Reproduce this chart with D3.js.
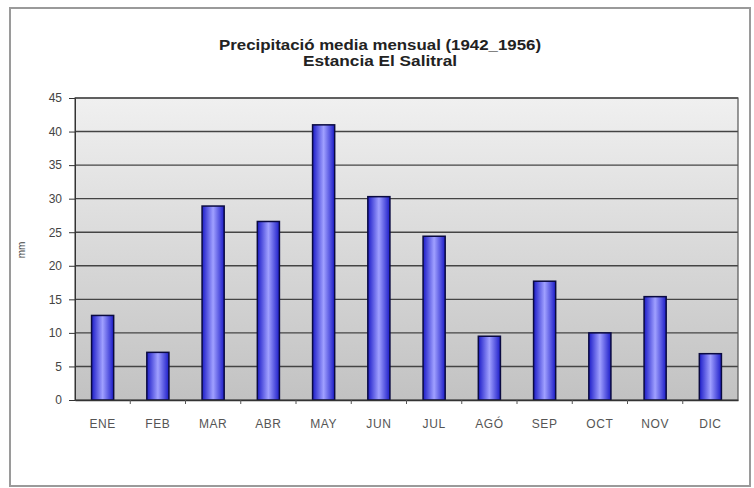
<!DOCTYPE html>
<html><head><meta charset="utf-8">
<script src="https://cdn.jsdelivr.net/npm/d3@7"></script>
<style>
html,body{margin:0;padding:0;background:#fff;}
svg{display:block;}
</style></head>
<body>
<script>
const months = ["ENE","FEB","MAR","ABR","MAY","JUN","JUL","AGÓ","SEP","OCT","NOV","DIC"];
const precip = [12.6, 7.1, 28.9, 26.6, 41.0, 30.3, 24.4, 9.5, 17.7, 10.0, 15.4, 6.9];
const yTicks = [0,5,10,15,20,25,30,35,40,45];
const titleLines = ["Precipitació media mensual (1942_1956)", "Estancia El Salitral"];
const yLabel = "mm";

const W = 754, H = 488;
const m = {left:75, right:16, top:98, bottom:88};
const FONT = "Arial, 'Liberation Sans', sans-serif";
const svg = d3.select("body").append("svg").attr("width",W).attr("height",H);
const defs = svg.append("defs");

const bg = defs.append("linearGradient").attr("id","bg").attr("x1",0).attr("y1",0).attr("x2",0).attr("y2",1);
bg.append("stop").attr("offset","0%").attr("stop-color","#f0f0f0");
bg.append("stop").attr("offset","100%").attr("stop-color","#c2c2c2");

const bar = defs.append("linearGradient").attr("id","bar").attr("x1",0).attr("y1",0).attr("x2",1).attr("y2",0);
bar.append("stop").attr("offset","0%").attr("stop-color","#1c1cc8");
bar.append("stop").attr("offset","50%").attr("stop-color","#a0a0ff");
bar.append("stop").attr("offset","100%").attr("stop-color","#1c1cc8");

// outer frame
svg.append("rect").attr("x",10).attr("y",8).attr("width",740).attr("height",478)
  .attr("fill","#fff").attr("stroke","#9a9a9a").attr("stroke-width",2);

const x = d3.scaleBand().domain(months).range([m.left, W-m.right]).paddingInner(0.6).paddingOuter(0.3);
const y = d3.scaleLinear().domain([0,45]).range([H-m.bottom, m.top]);

const pw = W-m.right-m.left, ph = (H-m.bottom)-m.top;
svg.append("rect").attr("x",m.left).attr("y",m.top).attr("width",pw).attr("height",ph).attr("fill","url(#bg)");

// gridlines
svg.append("g").selectAll("line").data(yTicks.filter(d=>d>0)).join("line")
  .attr("x1",m.left).attr("x2",W-m.right).attr("y1",d=>y(d)).attr("y2",d=>y(d))
  .attr("stroke","#444").attr("stroke-width",1.4);

// plot border
svg.append("rect").attr("x",m.left).attr("y",m.top).attr("width",pw).attr("height",ph)
  .attr("fill","none").attr("stroke","#555").attr("stroke-width",1.2);

// bars
svg.append("g").selectAll("rect").data(precip).join("rect")
  .attr("x",(d,i)=>x(months[i])).attr("width",x.bandwidth())
  .attr("y",d=>y(d)).attr("height",d=>y(0)-y(d))
  .attr("fill","url(#bar)").attr("stroke","#0a0a40").attr("stroke-width",1.5);

// y axis
const ya = svg.append("g").attr("transform",`translate(${m.left},0)`)
  .call(d3.axisLeft(y).tickValues(yTicks).tickSize(6).tickPadding(7));
ya.select(".domain").attr("stroke","#333");
ya.selectAll(".tick line").attr("stroke","#333");
ya.selectAll("text").attr("font-family",FONT).attr("font-size",12).attr("fill","#444");

// x axis
const xa = svg.append("g").attr("transform",`translate(0,${H-m.bottom})`)
  .call(d3.axisBottom(x).tickSize(0).tickPadding(19));
xa.select(".domain").attr("stroke","#333").attr("stroke-width",1.3);
xa.selectAll("text").attr("font-family",FONT).attr("font-size",12)
  .attr("letter-spacing","0.6px").attr("fill","#555");
// category separator ticks
const seps = d3.range(1, months.length);
svg.append("g").selectAll("line").data(seps).join("line")
  .attr("x1",d=>m.left + pw*d/months.length).attr("x2",d=>m.left + pw*d/months.length)
  .attr("y1",H-m.bottom).attr("y2",H-m.bottom+4).attr("stroke","#555");

// title
const tl = [322, 154];
svg.append("g").selectAll("text").data(titleLines).join("text")
  .attr("x",380).attr("y",(d,i)=>50+i*16).attr("text-anchor","middle")
  .attr("font-family",FONT).attr("font-weight","bold")
  .attr("font-size",14).attr("fill","#222")
  .attr("textLength",(d,i)=>tl[i]).attr("lengthAdjust","spacingAndGlyphs").text(d=>d);

// y label
svg.append("text").attr("transform","translate(25,250) rotate(-90)")
  .attr("text-anchor","middle").attr("font-family",FONT)
  .attr("font-size",10).attr("fill","#444").text(yLabel);
</script>
</body></html>
